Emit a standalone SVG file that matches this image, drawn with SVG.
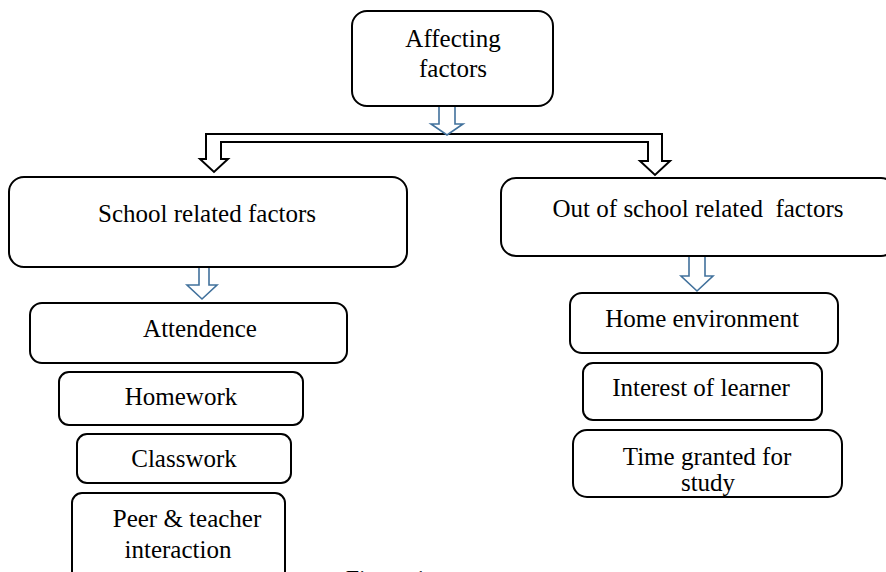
<svg xmlns="http://www.w3.org/2000/svg" width="886" height="572" viewBox="0 0 886 572">
<style>
.box{fill:#fff;stroke:#000;stroke-width:2}
.t{font-family:'Liberation Serif','Times New Roman','DejaVu Serif',serif;font-size:25px;fill:#000;text-anchor:middle}
.ba{fill:#fff;stroke:#41719c;stroke-width:1.6;stroke-linejoin:miter}
.ka{fill:#fff;stroke:#000;stroke-width:2;stroke-linejoin:miter}
</style>
<rect width="886" height="572" fill="#fff"/>
<g id="connectors">
<path class="ka" d="M206,134 H662 V161 H670 L655,175 L640,161 H648 V142 H221 V159 H228 L214,172 L200,159 H206 Z"/>
<path class="ba" d="M439,106 H455 V124 H463 L447,135 L431,124 H439 Z"/>
<path class="ba" d="M199,267 H209 V285 H217 L202,299 L187,285 H199 Z"/>
<path class="ba" d="M689,256 H705 V276 H713 L697,291 L681,276 H689 Z"/>
</g>
<g id="affecting">
<rect class="box" x="352" y="11" width="201" height="95" rx="15"/>
<text class="t" x="453" y="47">Affecting</text>
<text class="t" x="453" y="77">factors</text>
</g>
<g id="school">
<rect class="box" x="9" y="177" width="398" height="90" rx="15"/>
<text class="t" x="207" y="222">School related factors</text>
</g>
<g id="outschool">
<rect class="box" x="501" y="178" width="395" height="78" rx="15"/>
<text class="t" x="698" y="217" xml:space="preserve">Out of school related  factors</text>
</g>
<g id="attendence">
<rect class="box" x="30" y="303" width="317" height="60" rx="12"/>
<text class="t" x="200" y="337">Attendence</text>
</g>
<g id="homework">
<rect class="box" x="59" y="372" width="244" height="53" rx="10"/>
<text class="t" x="181" y="405">Homework</text>
</g>
<g id="classwork">
<rect class="box" x="77" y="434" width="214" height="49" rx="10"/>
<text class="t" x="184" y="467">Classwork</text>
</g>
<g id="peer">
<rect class="box" x="72" y="493" width="213" height="95" rx="10"/>
<text class="t" x="187" y="527">Peer &amp; teacher</text>
<text class="t" x="178" y="558">interaction</text>
</g>
<g id="home">
<rect class="box" x="570" y="293" width="268" height="60" rx="12"/>
<text class="t" x="702" y="327">Home environment</text>
</g>
<g id="interest">
<rect class="box" x="583" y="363" width="239" height="57" rx="10"/>
<text class="t" x="701" y="396">Interest of learner</text>
</g>
<g id="time">
<rect class="box" x="573" y="430" width="269" height="67" rx="14"/>
<text class="t" x="707" y="465">Time granted for</text>
<text class="t" x="708" y="491">study</text>
</g>
<text class="t" x="386" y="586" style="font-size:24px">Figure 1</text>
</svg>
